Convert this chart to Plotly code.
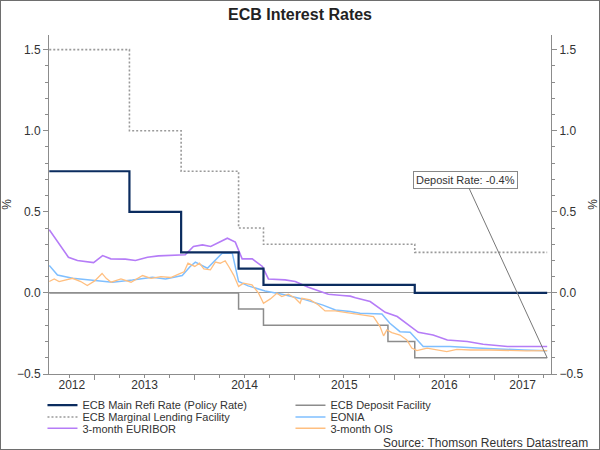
import pandas as pd
import plotly.graph_objects as go

# policy rates (step changes)
policy_dates = ["2012-07-19", "2013-05-08", "2013-11-13", "2014-06-11",
                "2014-09-10", "2016-03-16", "2017-07-13"]
refi_rate = [0.75, 0.50, 0.25, 0.15, 0.05, 0.00, 0.00]
mlf_rate = [1.50, 1.00, 0.75, 0.40, 0.30, 0.25, 0.25]

deposit_dates = ["2012-07-19", "2014-06-11", "2014-09-10", "2015-12-09",
                 "2016-03-16", "2017-07-13"]
deposit_rate = [0.00, -0.10, -0.20, -0.30, -0.40, -0.40]

# 3-month EURIBOR
euribor_dates = ["2012-07-19", "2012-08-28", "2012-09-27", "2012-10-30", "2012-12-28",
                 "2013-01-30", "2013-03-01", "2013-04-23", "2013-05-30", "2013-07-13",
                 "2013-08-22", "2013-11-28", "2013-12-28", "2014-01-30", "2014-03-01",
                 "2014-05-01", "2014-05-30", "2014-06-24", "2014-07-31", "2014-09-06",
                 "2014-09-28", "2014-11-28", "2015-01-04", "2015-02-21", "2015-05-05",
                 "2015-06-25", "2015-07-24", "2015-08-12", "2015-10-05", "2015-11-29",
                 "2016-01-12", "2016-03-29", "2016-05-22", "2016-07-13", "2016-09-24",
                 "2016-11-21", "2017-02-18", "2017-07-13"]
euribor = [0.39, 0.29, 0.22, 0.20, 0.187,
           0.23, 0.21, 0.208, 0.20, 0.22,
           0.228, 0.235, 0.286, 0.296, 0.286,
           0.337, 0.313, 0.21, 0.21, 0.163,
           0.086, 0.08, 0.07, 0.035, -0.008,
           -0.016, -0.02, -0.03, -0.053, -0.12,
           -0.146, -0.243, -0.26, -0.29, -0.30,
           -0.317, -0.33, -0.33]

# EONIA
eonia_dates = ["2012-07-19", "2012-08-18", "2012-10-12", "2012-12-24", "2013-03-07",
               "2013-05-19", "2013-07-31", "2013-09-17", "2013-11-17", "2013-12-16",
               "2014-01-04", "2014-02-17", "2014-04-12", "2014-05-19", "2014-06-11",
               "2014-07-16", "2014-09-16", "2014-11-17", "2015-01-30", "2015-04-13",
               "2015-05-31", "2015-07-24", "2015-08-29", "2015-11-17", "2015-12-16",
               "2016-01-22", "2016-02-28", "2016-04-16", "2016-07-23", "2016-10-30",
               "2017-02-03", "2017-04-17", "2017-07-13"]
eonia = [0.169, 0.11, 0.09, 0.076, 0.066,
         0.08, 0.097, 0.086, 0.107, 0.163,
         0.19, 0.152, 0.245, 0.245, 0.07,
         0.043, 0.012, -0.008, -0.037, -0.074,
         -0.105, -0.115, -0.125, -0.13, -0.187,
         -0.239, -0.243, -0.33, -0.33, -0.34,
         -0.348, -0.352, -0.356]

# 3-month OIS
ois_dates = ["2012-07-19", "2012-08-06", "2012-08-24", "2012-09-18", "2012-10-12",
             "2012-11-11", "2012-12-05", "2013-01-01", "2013-01-28", "2013-02-12",
             "2013-03-02", "2013-04-07", "2013-05-14", "2013-06-25", "2013-07-26",
             "2013-08-31", "2013-10-06", "2013-11-06", "2013-11-24", "2013-12-08",
             "2014-01-02", "2014-01-19", "2014-02-04", "2014-02-28", "2014-03-18",
             "2014-04-05", "2014-04-23", "2014-05-06", "2014-05-24", "2014-06-11",
             "2014-06-29", "2014-07-30", "2014-08-23", "2014-09-10", "2014-10-05",
             "2014-10-29", "2014-11-16", "2014-12-10", "2015-01-04", "2015-01-22",
             "2015-01-28", "2015-02-28", "2015-03-30", "2015-04-23", "2015-05-30",
             "2015-07-05", "2015-08-11", "2015-09-10", "2015-10-17", "2015-11-10",
             "2015-11-23", "2015-12-05", "2015-12-23", "2016-01-22", "2016-02-16",
             "2016-03-05", "2016-03-24", "2016-04-30", "2016-06-05", "2016-07-11",
             "2016-08-17", "2016-10-05", "2016-12-16", "2017-02-28", "2017-04-29",
             "2017-07-13"]
ois = [0.07, 0.086, 0.07, 0.08, 0.09,
       0.07, 0.045, 0.074, 0.12, 0.09,
       0.066, 0.086, 0.066, 0.107, 0.09,
       0.10, 0.095, 0.117, 0.13, 0.183,
       0.163, 0.183, 0.148, 0.142, 0.19,
       0.183, 0.198, 0.163, 0.11, 0.04,
       0.06, 0.05, -0.002, -0.064, -0.037,
       -0.002, -0.023, -0.008, -0.033, -0.064,
       -0.033, -0.043, -0.074, -0.111, -0.111,
       -0.12, -0.13, -0.136, -0.146, -0.208,
       -0.265, -0.228, -0.245, -0.26, -0.29,
       -0.34, -0.356, -0.34, -0.352, -0.362,
       -0.348, -0.352, -0.352, -0.356, -0.358,
       -0.356]

years = [2012, 2013, 2014, 2015, 2016, 2017]
x_start, x_end = "2012-07-18", "2017-07-27"

FONT = "Liberation Sans"
TXT = "#333333"
AXC = "#8c8c8c"

# year labels sit in the middle of the visible part of each year
lo, hi = pd.Timestamp(x_start), pd.Timestamp(x_end)
label_pos = []
for yr in years:
    a = max(pd.Timestamp(f"{yr}-01-01"), lo)
    b = min(pd.Timestamp(f"{yr + 1}-01-01"), hi)
    label_pos.append((a + (b - a) / 2).strftime("%Y-%m-%d %H:%M"))

fig = go.Figure()

fig.add_trace(go.Scatter(x=deposit_dates, y=deposit_rate, name="ECB Deposit Facility",
                         mode="lines", line=dict(color="#8c8c8c", width=1.5, shape="hv"),
                         legend="legend", legendrank=2))
# drawn on the overlay axes (same ranges) so the right-hand axis shows up
fig.add_trace(go.Scatter(x=policy_dates, y=mlf_rate, name="ECB Marginal Lending Facility",
                         mode="lines", xaxis="x2", yaxis="y2",
                         line=dict(color="#9a9a9a", width=1.6, dash="2px,2px", shape="hv"),
                         legend="legend2", legendrank=1))
fig.add_trace(go.Scatter(x=eonia_dates, y=eonia, name="EONIA", mode="lines",
                         line=dict(color="#7fbfff", width=1.5),
                         legend="legend2", legendrank=2))
fig.add_trace(go.Scatter(x=ois_dates, y=ois, name="3-month OIS", mode="lines",
                         line=dict(color="#ffbf80", width=1.3),
                         legend="legend3", legendrank=2))
fig.add_trace(go.Scatter(x=euribor_dates, y=euribor, name="3-month EURIBOR", mode="lines",
                         line=dict(color="#b57cf7", width=1.6),
                         legend="legend3", legendrank=1))
fig.add_trace(go.Scatter(x=policy_dates, y=refi_rate, name="ECB Main Refi Rate (Policy Rate)",
                         mode="lines", line=dict(color="#0b2c5f", width=2.2, shape="hv"),
                         legend="legend", legendrank=1))

yax = dict(range=[-0.5, 1.59], tick0=0, dtick=0.5, tickformat=".1f",
           ticks="outside", ticklen=5, tickcolor=AXC, automargin=False,
           minor=dict(dtick=0.1, ticks="outside", ticklen=3, tickcolor=AXC),
           showline=True, linecolor=AXC, linewidth=1, showgrid=False,
           tickfont=dict(size=12, color=TXT),
           title=dict(text="%", font=dict(size=12, color=TXT), standoff=6))

leg = dict(orientation="h", xanchor="left", yanchor="middle", x=-0.013,
           entrywidth=203, bgcolor="rgba(0,0,0,0)",
           font=dict(family=FONT, size=11, color=TXT), traceorder="normal")

fig.update_layout(
    width=600, height=450,
    margin=dict(l=49, r=49, t=35, b=76, autoexpand=False),
    paper_bgcolor="white", plot_bgcolor="white",
    font=dict(family=FONT, size=12, color=TXT),
    title=dict(text="<b>ECB Interest Rates</b>", x=0.5, xanchor="center",
               y=0.967, yanchor="middle", font=dict(size=16, color="#222222")),
    xaxis=dict(type="date", range=[x_start, x_end], automargin=False,
               tickmode="array", tickvals=label_pos, ticktext=[str(y) for y in years],
               ticks="", showline=True, linecolor=AXC, showgrid=False,
               tickfont=dict(size=12, color=TXT),
               minor=dict(tickmode="linear", tick0="2012-01-01", dtick="M3",
                          ticks="outside", ticklen=3, tickcolor=AXC)),
    xaxis2=dict(type="date", range=[x_start, x_end], overlaying="x", anchor="y2",
                side="bottom", tickmode="array", automargin=False,
                tickvals=[f"{y}-01-01" for y in years],
                showticklabels=False, ticks="outside", ticklen=5, tickcolor=AXC,
                showline=False, showgrid=False, zeroline=False),
    yaxis=dict(**yax, zeroline=True, zerolinecolor="#9a9a9a", zerolinewidth=1),
    yaxis2=dict(**yax, overlaying="y", side="right", anchor="x2", zeroline=False),
    legend=dict(**leg, y=-0.092),
    legend2=dict(**leg, y=-0.127),
    legend3=dict(**leg, y=-0.160),
    showlegend=True,
)

# pointer box to the last deposit rate
fig.add_annotation(x=deposit_dates[-1], y=deposit_rate[-1],
                   text="Deposit Rate: -0.4%", showarrow=True, arrowhead=0,
                   arrowwidth=1, arrowcolor="#777777", ax=-82, ay=-178,
                   font=dict(size=11, color=TXT), bgcolor="white",
                   bordercolor="#888888", borderwidth=1, borderpad=2)

fig.add_annotation(text="Source: Thomson Reuters Datastream", xref="paper", yref="paper",
                   x=1.078, y=-0.203, xanchor="right", yanchor="middle", showarrow=False,
                   font=dict(size=12, color=TXT))

# outer frame of the picture
fig.add_shape(type="rect", xref="paper", yref="paper",
              x0=-49 / 502, x1=1 + 49 / 502, y0=-76 / 339, y1=1 + 35 / 339,
              line=dict(color="#6e6e6e", width=2), layer="above")

# drop the page's default body margin so the 600x450 figure fills the window
fig.write_html("out.html", config={"displayModeBar": False},
               post_script="document.body.style.margin='0';")
